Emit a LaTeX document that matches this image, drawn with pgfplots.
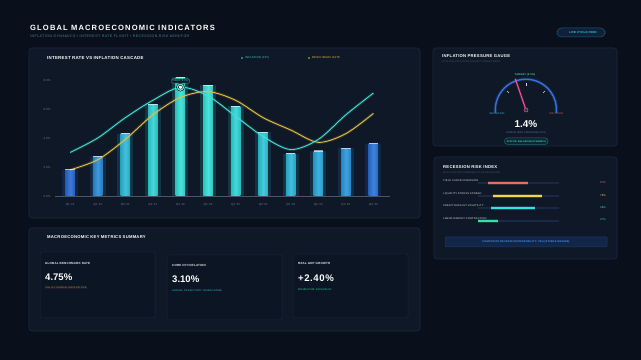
\documentclass[border=0pt]{standalone}
\usepackage{pgfplots}
\pgfplotsset{compat=1.18}
\usepackage{pgfplotstable}
\usepackage{fontspec}
\setmainfont{Liberation Sans}
\newfontfamily\hd[LetterSpace=15]{Liberation Sans}
\newfontfamily\hs[LetterSpace=6]{Liberation Sans}
\newfontfamily\hw[LetterSpace=12]{Liberation Sans}
\newcommand\fs[1]{\fontsize{#1}{#1}\selectfont}
\definecolor{bg}{HTML}{0A101B}
\definecolor{panel}{HTML}{0E1827}
\definecolor{pborder}{HTML}{1C2B40}
\definecolor{card}{HTML}{0C1524}
\definecolor{cborder}{HTML}{19283C}
\definecolor{cyanL}{HTML}{3FE3D2}
\definecolor{yel}{HTML}{E5BE45}
\definecolor{muted}{HTML}{6B7A90}
\definecolor{sub}{HTML}{4E7F99}
\definecolor{cA}{HTML}{2A6AD4}
\definecolor{cB}{HTML}{2B8CD8}
\definecolor{cC}{HTML}{2EBAD8}
\definecolor{cD}{HTML}{30D2D6}
\definecolor{cE}{HTML}{36E0D8}
\definecolor{cF}{HTML}{31D4D8}
\definecolor{cG}{HTML}{2FC6D8}
\definecolor{cH}{HTML}{2DB8DA}
\definecolor{cI}{HTML}{2CAADC}
\definecolor{cJ}{HTML}{2B96DE}
\definecolor{cK}{HTML}{2A74DA}
\definecolor{salmon}{HTML}{E8705A}
\definecolor{ryel}{HTML}{F0D44A}
\definecolor{rcyan}{HTML}{33E2E6}
\definecolor{rgreen}{HTML}{34E0A4}
\definecolor{track}{HTML}{1A2848}
\definecolor{pink}{HTML}{FF4F93}
\definecolor{gblue}{HTML}{3A70DC}
\definecolor{pillB}{HTML}{1E5A7A}
\definecolor{pillF}{HTML}{0D2238}
\definecolor{pillT}{HTML}{3FC8E0}
\definecolor{polbg}{HTML}{1A1E24}
\definecolor{orangeT}{HTML}{C8904F}
\definecolor{cyanT}{HTML}{3EC8D8}
\definecolor{greenT}{HTML}{34D49A}
\definecolor{tgreen}{HTML}{3AD9A0}
\definecolor{defl}{HTML}{3ACFD0}
\definecolor{infl}{HTML}{E05A5A}
\definecolor{stB}{HTML}{1F6A72}
\definecolor{stF}{HTML}{0F2630}
\definecolor{stT}{HTML}{3FD8D8}
\definecolor{compB}{HTML}{1E3A66}
\definecolor{compF}{HTML}{12264A}
\definecolor{compT}{HTML}{4D8FE0}
\definecolor{hub}{HTML}{2A3550}
\newcommand\qbar[3]{%
\addplot[ybar,bar shift=0pt,bar width=16bp,draw=none,fill=#3,fill opacity=0.16] coordinates {(#1,#2)};
\addplot[ybar,bar shift=0pt,bar width=9.5bp,draw=none,left color=#3!88!black,right color=#3!88!black,middle color=#3!90!white] coordinates {(#1,#2)};}
\pgfplotstableread{
i v
0 1.8
1 2.7
2 4.3
3 6.3
4 8.2
5 7.65
6 6.2
7 4.4
8 2.9
9 3.1
10 3.3
11 3.6
}\bars
\pgfplotstableread{
i v
0 3.0
1 4.0
2 5.4
3 6.6
4 7.5
5 6.9
6 5.5
7 4.1
8 3.2
9 3.9
10 5.6
11 7.1
}\cpi
\pgfplotstableread{
i v
0 1.8
1 2.5
2 3.9
3 5.6
4 6.8
5 7.2
6 6.6
7 5.4
8 4.55
9 3.7
10 4.3
11 5.7
}\rate
\begin{document}
\begin{tikzpicture}
\fill[bg] (0,0) rectangle (641bp,360bp);
\begin{scope}[x=1bp,y=-1bp,yshift=360bp]
% panels
\draw[pborder,fill=panel,rounded corners=3bp,line width=0.6bp] (29,48) rectangle (420,218);
\draw[pborder,fill=panel,rounded corners=3bp,line width=0.6bp] (29,228) rectangle (420,331);
\draw[pborder,fill=panel,rounded corners=3bp,line width=0.6bp] (433,48) rectangle (617,146);
\draw[pborder,fill=panel,rounded corners=3bp,line width=0.6bp] (434,157) rectangle (617,259);
% cards
\draw[cborder,fill=card,rounded corners=2bp,line width=0.5bp] (40,252) rectangle (155,318);
\draw[cborder,fill=card,rounded corners=2bp,line width=0.5bp] (167,255) rectangle (282,320);
\draw[cborder,fill=card,rounded corners=2bp,line width=0.5bp] (293,254) rectangle (408,318);
% header
\node[anchor=west,inner sep=0,text=white,font=\hd\bfseries\fs{7.6}] at (30,28) {GLOBAL MACROECONOMIC INDICATORS};
\node[anchor=west,inner sep=0,text=sub,font=\hw\fs{3.6}] at (30,36.5) {INFLATION DYNAMICS • INTEREST RATE FLIGHT • RECESSION RISK MONITOR};
\draw[pillB,fill=pillF,line width=0.5bp,rounded corners=4.5bp] (557,28) rectangle (605,37);
\node[inner sep=0,text=pillT,font=\hs\bfseries\fs{2.9}] at (583,32.5) {LIVE CYCLE FEED};
% main panel title + legend
\node[anchor=west,inner sep=0,text=white,font=\hs\bfseries\fs{4.4}] at (47,58) {INTEREST RATE VS INFLATION CASCADE};
\fill[cyanL] (242,58) circle (0.9);
\node[anchor=west,inner sep=0,text=cyanL!80!gray,font=\hs\fs{2.8}] at (245,58) {INFLATION (CPI)};
\fill[yel] (309,58) circle (0.9);
\node[anchor=west,inner sep=0,text=yel!85!gray,font=\hs\fs{2.8}] at (312,58) {BENCHMARK RATE};
% bottom panel
\node[anchor=west,inner sep=0,text=white,font=\hs\bfseries\fs{4.2}] at (47,237) {MACROECONOMIC KEY METRICS SUMMARY};
\node[anchor=west,inner sep=0,text=white!85!gray,font=\hs\bfseries\fs{3}] at (45,263) {GLOBAL BENCHMARK RATE};
\node[anchor=west,inner sep=0,text=white,font=\bfseries\fs{9.6}] at (45,277) {4.75\%};
\node[anchor=west,inner sep=0.4bp,fill=polbg,text=orangeT,font=\hs\fs{2.5}] at (45,288) {POLICY STANCE: RESTRICTIVE};
\node[anchor=west,inner sep=0,text=white!85!gray,font=\hs\bfseries\fs{3}] at (172,265) {CORE CPI INFLATION};
\node[anchor=west,inner sep=0,text=white,font=\bfseries\fs{9.6}] at (172,279.5) {3.10\%};
\node[anchor=west,inner sep=0,text=cyanT,font=\hs\fs{2.5}] at (172,291) {ANNUAL TRAJECTORY: DISINFLATING};
\node[anchor=west,inner sep=0,text=white!85!gray,font=\hs\bfseries\fs{3}] at (298,263) {REAL GDP GROWTH};
\node[anchor=west,inner sep=0,text=white,font=\hs\bfseries\fs{9.6}] at (298,278) {+2.40\%};
\node[anchor=west,inner sep=0,text=greenT,font=\hs\fs{2.5}] at (298,290) {MOMENTUM: EXPANSION};
% gauge panel texts
\node[anchor=west,inner sep=0,text=white,font=\hs\bfseries\fs{4.2}] at (442,56) {INFLATION PRESSURE GAUGE};
\node[anchor=west,inner sep=0,text=muted!70!bg,font=\hs\fs{2.4}] at (442,62) {CYCLICAL INFLATION AGAINST TARGET BAND};
\node[inner sep=0,text=tgreen,font=\hs\bfseries\fs{2.6}] at (525,74.5) {TARGET (2.0\%)};
\node[inner sep=0,text=defl,font=\hs\fs{2.5}] at (497,114) {DEFLATION};
\node[inner sep=0,text=infl,font=\hs\fs{2.5}] at (556,114) {INFLATION};
\node[inner sep=0,text=white,font=\bfseries\fs{10}] at (526,124.5) {1.4\%};
\node[inner sep=0,text=muted,font=\hs\fs{2.5}] at (526,133) {ANNUALIZED PRESSURE (CPI)};
\draw[stB,fill=stF,line width=0.5bp,rounded corners=3bp] (504.5,138) rectangle (548,144.5);
\node[inner sep=0,text=stT,font=\hs\bfseries\fs{2.3}] at (526.3,141.3) {STATUS: BALANCED DYNAMICS};
% recession panel texts
\node[anchor=west,inner sep=0,text=white,font=\hs\bfseries\fs{4.2}] at (443,167) {RECESSION RISK INDEX};
\node[anchor=west,inner sep=0,text=muted!70!bg,font=\hs\fs{2.4}] at (443,172.5) {MULTI-FACTOR PROBABILITY OF RECESSION};
\node[anchor=west,inner sep=0,text=white!75!gray,font=\hs\fs{2.6}] at (443,181) {YIELD CURVE INVERSION};
\node[anchor=west,inner sep=0,text=white!75!gray,font=\hs\fs{2.6}] at (443,193.5) {LIQUIDITY STRESS SPREAD};
\node[anchor=west,inner sep=0,text=white!75!gray,font=\hs\fs{2.6}] at (443,206) {CREDIT DEFAULT VOLATILITY};
\node[anchor=west,inner sep=0,text=white!75!gray,font=\hs\fs{2.6}] at (443,218.5) {LABOR MARKET CONTRACTION};
\node[inner sep=0,text=salmon,font=\hs\fs{2.8}] at (603,183) {67\%};
\node[inner sep=0,text=ryel,font=\hs\fs{2.8}] at (603,195.5) {78\%};
\node[inner sep=0,text=rcyan,font=\hs\fs{2.8}] at (603,207.5) {46\%};
\node[inner sep=0,text=rgreen,font=\hs\fs{2.8}] at (603,220) {27\%};
\draw[compB,fill=compF,line width=0.5bp,rounded corners=1bp] (445,237) rectangle (607,247);
\node[inner sep=0,text=compT,font=\hs\bfseries\fs{2.6}] at (526,242) {COMPOSITE RECESSION PROBABILITY: 34\% (STABLE REGIME)};
\end{scope}
% ================= main chart
\begin{axis}[at={(55bp,164bp)},anchor=south west,scale only axis,
 width=335bp,height=130.5bp,xmin=-0.55,xmax=11.6,ymin=0,ymax=9,
 clip=false,axis line style={draw=none},tick style={draw=none},
 ytick={0,2,4,6,8},yticklabels={0.0\%,2.0\%,4.0\%,6.0\%,8.0\%},
 xtick={0,...,11},
 xticklabels={{Q1 '21},{Q2 '21},{Q3 '21},{Q4 '21},{Q1 '22},{Q2 '22},{Q3 '22},{Q4 '22},{Q1 '23},{Q2 '23},{Q3 '23},{Q4 '23}},
 ticklabel style={font=\fs{3},text=muted},
 xticklabel style={yshift=-3.5bp},yticklabel style={xshift=-1bp}]
\draw[pborder!80!white,line width=0.4bp] (axis cs:-0.55,0) -- (axis cs:11.6,0);
\qbar{0}{1.8}{cA}
\qbar{1}{2.7}{cB}
\qbar{2}{4.3}{cC}
\qbar{3}{6.3}{cD}
\qbar{4}{8.2}{cE}
\qbar{5}{7.65}{cE}
\qbar{6}{6.2}{cF}
\qbar{7}{4.4}{cG}
\qbar{8}{2.9}{cH}
\qbar{9}{3.1}{cI}
\qbar{10}{3.3}{cJ}
\qbar{11}{3.6}{cK}
\addplot[only marks,mark=-,mark size=4.75bp,mark options={line width=1.1bp,draw=white,draw opacity=0.6}] table[x=i,y=v] {\bars};
\addplot[smooth,yel,line width=3bp,opacity=0.15] table[x=i,y=v] {\rate};
\addplot[smooth,yel,line width=0.9bp] table[x=i,y=v] {\rate};
\addplot[smooth,cyanL,line width=3bp,opacity=0.15] table[x=i,y=v] {\cpi};
\addplot[smooth,cyanL,line width=0.9bp] table[x=i,y=v] {\cpi};
\addplot[only marks,mark=*,mark size=4bp,mark options={fill=white,draw=none,fill opacity=0.25}] coordinates {(4,7.5)};
\addplot[only marks,mark=*,mark size=2bp,mark options={fill=white,draw=none}] coordinates {(4,7.5)};
\node[draw=cyanL!70!black,fill=panel,text=cyanL!90!white,font=\hs\fs{2.6},inner sep=1.2bp,rounded corners=1bp] at (axis cs:4,7.93) {PEAK: 8.2\%};
\end{axis}
% ================= gauge
\begin{axis}[at={(486bp,245bp)},anchor=south west,scale only axis,hide axis,
 width=80bp,height=40bp,xmin=-40,xmax=40,ymin=-5,ymax=35,clip=false]
\draw[gblue,line width=3.5bp,opacity=0.18] (axis cs:-30.5,-3) arc[start angle=186,end angle=-6,radius=30.6bp];
\draw[gblue,line width=1.4bp] (axis cs:-30.5,-3) arc[start angle=186,end angle=-6,radius=30.6bp];
\draw[white!70!gray,line width=0.4bp] (axis cs:-19.1,19.1) -- (axis cs:-17.0,17.0);
\draw[white!70!gray,line width=0.4bp] (axis cs:0,27) -- (axis cs:0,24);
\draw[white!70!gray,line width=0.4bp] (axis cs:19.1,19.1) -- (axis cs:17.0,17.0);
\addplot[pink,line width=2.5bp,opacity=0.2] coordinates {(0,0) (-10.7,31.2)};
\addplot[pink,line width=1bp] coordinates {(0,0) (-10.7,31.2)};
\addplot[only marks,mark=*,mark size=2bp,mark options={fill=hub,draw=pink!60!gray,line width=0.5bp}] coordinates {(0,0)};
\end{axis}
% ================= recession bars
\begin{axis}[at={(478bp,135bp)},anchor=south west,scale only axis,hide axis,
 width=81bp,height=50bp,xmin=0,xmax=100,ymin=175,ymax=225,y dir=reverse,clip=false]
\addplot[track,line width=1.4bp] coordinates {(0,183) (100,183)};
\addplot[track,line width=1.4bp] coordinates {(0,196) (100,196)};
\addplot[track,line width=1.4bp] coordinates {(0,208) (100,208)};
\addplot[track,line width=1.4bp] coordinates {(0,221) (100,221)};
\addplot[salmon,line width=3.5bp,opacity=0.2] coordinates {(12.3,183) (61.7,183)};
\addplot[salmon,line width=1.6bp] coordinates {(12.3,183) (61.7,183)};
\addplot[ryel,line width=3.5bp,opacity=0.2] coordinates {(18.5,196) (79,196)};
\addplot[ryel,line width=1.8bp] coordinates {(18.5,196) (79,196)};
\addplot[rcyan,line width=3.5bp,opacity=0.2] coordinates {(16,208) (70.4,208)};
\addplot[rcyan,line width=1.8bp] coordinates {(16,208) (70.4,208)};
\addplot[rgreen,line width=3.5bp,opacity=0.2] coordinates {(0,221) (24.7,221)};
\addplot[rgreen,line width=1.8bp] coordinates {(0,221) (24.7,221)};
\end{axis}
\pgfresetboundingbox
\useasboundingbox (0,0) rectangle (641bp,360bp);
\end{tikzpicture}
\end{document}
